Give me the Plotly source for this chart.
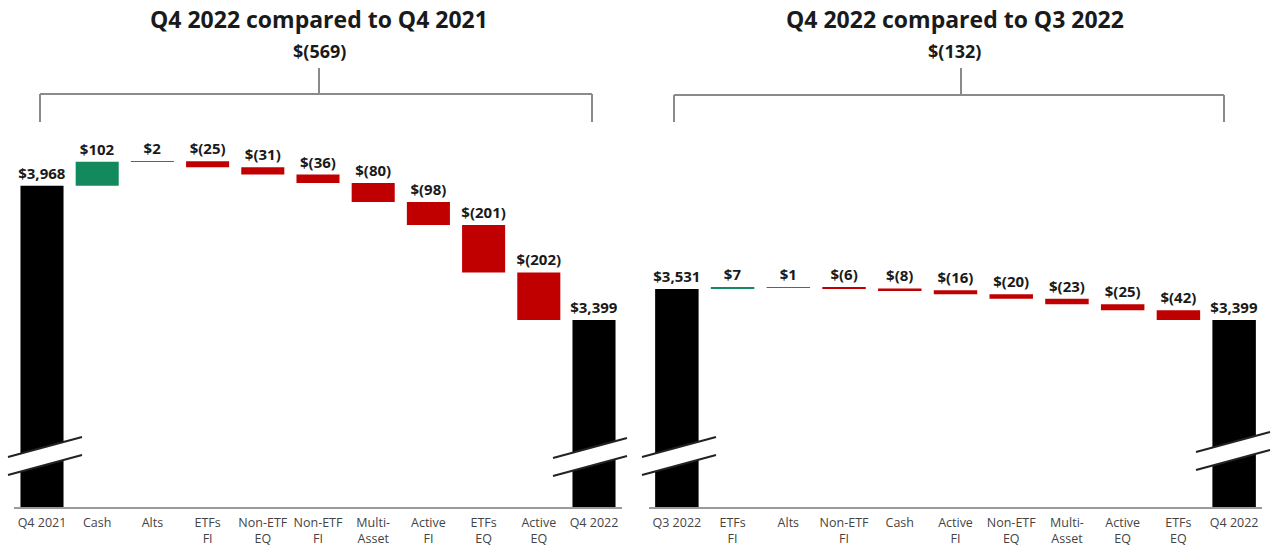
import plotly.graph_objects as go

W, H = 1273, 546
MT, MB = 120, 39

# ---- data ----
left_categories = ["Q4 2021", "Cash", "Alts", "ETFs<br>FI", "Non-ETF<br>EQ", "Non-ETF<br>FI",
                   "Multi-<br>Asset", "Active<br>FI", "ETFs<br>EQ", "Active<br>EQ", "Q4 2022"]
left_values = [3968, 102, 2, -25, -31, -36, -80, -98, -201, -202, 3399]
left_measures = ["absolute"] + ["relative"] * 9 + ["absolute"]

right_categories = ["Q3 2022", "ETFs<br>FI", "Alts", "Non-ETF<br>FI", "Cash", "Active<br>FI",
                    "Non-ETF<br>EQ", "Multi-<br>Asset", "Active<br>EQ", "ETFs<br>EQ", "Q4 2022"]
right_values = [3531, 7, 1, -6, -8, -16, -20, -23, -25, -42, 3399]
right_measures = ["absolute"] + ["relative"] * 9 + ["absolute"]

left_title = "Q4 2022 compared to Q4 2021"
left_change = "$(569)"
right_title = "Q4 2022 compared to Q3 2022"
right_change = "$(132)"

Y_RANGE = [2607, 4247]

GREEN = "#138a5e"
RED = "#c00000"
BLACK = "#000000"
FONT = "Open Sans"


def fmt(v):
    return "$" + f"{v:,}" if v >= 0 else "$(" + f"{abs(v):,}" + ")"


def build(values, measures):
    bases, heights, colors = [], [], []
    running = 0
    for v, m in zip(values, measures):
        if m == "absolute":
            bases.append(0)
            heights.append(v)
            colors.append(BLACK)
            running = v
        else:
            lo = min(running, running + v)
            bases.append(lo)
            heights.append(abs(v))
            colors.append(GREEN if v > 0 else RED)
            running += v
    return bases, heights, colors


fig = go.Figure()

panels = [
    (left_categories, left_values, left_measures, "x", "y"),
    (right_categories, right_values, right_measures, "x2", "y2"),
]
for cats, vals, meas, xa, ya in panels:
    bases, heights, colors = build(vals, meas)
    fig.add_trace(go.Bar(
        x=list(range(len(cats))), y=heights, base=bases,
        marker=dict(color=colors, line=dict(width=0)),
        width=0.78,
        text=[fmt(v) for v in vals], textposition="outside",
        textfont=dict(family=FONT, size=15, color="#1a1a1a", weight="bold"),
        constraintext="none", cliponaxis=False,
        xaxis=xa, yaxis=ya, showlegend=False, hoverinfo="skip",
    ))

xaxis_common = dict(
    range=[-0.5, 10.5], showgrid=False, zeroline=False, showline=True,
    linecolor="#9a9a9a", linewidth=2, ticks="", tickmode="array",
    ticklabelstandoff=3,
    tickfont=dict(family=FONT, size=12.5, color="#444"), fixedrange=True,
)
yaxis_common = dict(range=Y_RANGE, visible=False, showgrid=False, zeroline=False, fixedrange=True)

fig.update_layout(
    width=W, height=H,
    margin=dict(l=0, r=0, t=MT, b=MB, autoexpand=False),
    paper_bgcolor="white", plot_bgcolor="white",
    bargap=0.2,
    xaxis=dict(domain=[14.4 / W, 621.6 / W], tickvals=list(range(11)), ticktext=left_categories, **xaxis_common),
    xaxis2=dict(domain=[649 / W, 1262 / W], tickvals=list(range(11)), ticktext=right_categories, anchor="y2", **xaxis_common),
    yaxis=dict(domain=[0, 1], **yaxis_common),
    yaxis2=dict(domain=[0, 1], anchor="x2", **yaxis_common),
)


def px(x):
    return x / W


def py(y):
    return 1 - (y - MT) / (H - MT - MB)


shapes = []
annotations = []

# brackets and titles
for (xl, xr, xc, yh, title, change, tx) in [
    (40, 592, 319, 94, left_title, left_change, 319),
    (674, 1224, 961, 95, right_title, right_change, 955),
]:
    lc = dict(color="#8a8a8a", width=2)
    shapes.append(dict(type="line", xref="paper", yref="paper", x0=px(xl), x1=px(xr), y0=py(yh), y1=py(yh), line=lc))
    shapes.append(dict(type="line", xref="paper", yref="paper", x0=px(xl), x1=px(xl), y0=py(yh), y1=py(122), line=lc))
    shapes.append(dict(type="line", xref="paper", yref="paper", x0=px(xr), x1=px(xr), y0=py(yh), y1=py(122), line=lc))
    shapes.append(dict(type="line", xref="paper", yref="paper", x0=px(xc), x1=px(xc), y0=py(68), y1=py(yh), line=lc))
    annotations.append(dict(text=title, xref="paper", yref="paper", x=px(tx), y=py(19), showarrow=False,
                            xanchor="center", yanchor="middle",
                            font=dict(family=FONT, size=23, color="#1a1a1a", weight="bold")))
    annotations.append(dict(text=change, xref="paper", yref="paper", x=px(tx), y=py(51), showarrow=False,
                            xanchor="center", yanchor="middle",
                            font=dict(family=FONT, size=18, color="#1a1a1a", weight="bold")))


# axis-break marks
def break_mark(cx, cy):
    hw, rise, gap = 37, 10, 9
    ax0, ax1 = cx - hw, cx + hw
    u0, u1 = cy - gap + rise, cy - gap - rise
    l0, l1 = cy + gap + rise, cy + gap - rise
    path = (f"M {px(ax0)},{py(u0)} L {px(ax1)},{py(u1)} L {px(ax1)},{py(l1)} L {px(ax0)},{py(l0)} Z")
    shapes.append(dict(type="path", xref="paper", yref="paper", path=path, fillcolor="white",
                       line=dict(width=0), layer="above"))
    for a, b in [(u0, u1), (l0, l1)]:
        shapes.append(dict(type="line", xref="paper", yref="paper", x0=px(ax0), x1=px(ax1),
                           y0=py(a), y1=py(b), line=dict(color="#222", width=2), layer="above"))


for cx, cy in [(45, 456), (590, 457), (679, 456), (1233, 451)]:
    break_mark(cx, cy)

fig.update_layout(shapes=shapes, annotations=annotations)
fig.write_html("out.html", config={"displayModeBar": False},
               post_script="document.body.style.margin='0';")
